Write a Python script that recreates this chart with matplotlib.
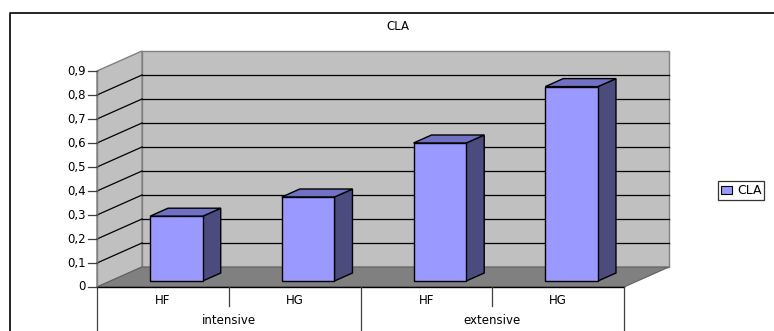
import matplotlib
matplotlib.use('Agg')
import matplotlib.pyplot as plt
from matplotlib.patches import Polygon, Patch
from matplotlib.lines import Line2D

plt.rcParams['font.family'] = ['DejaVu Sans']

# Data
categories = ['HF', 'HG', 'HF', 'HG']
groups = ['intensive', 'extensive']
values = [0.27, 0.35, 0.575, 0.81]
series_name = 'CLA'
ytick_labels = ['0', '0,1', '0,2', '0,3', '0,4', '0,5', '0,6', '0,7', '0,8', '0,9']

# Colours
front_col = '#9999ff'
top_col = '#7070c4'
side_col = '#4b4b7e'
wall_col = '#c0c0c0'
floor_col = '#808080'

W, H = 774, 331
fig = plt.figure(figsize=(W / 100, H / 100), dpi=100)
ax = fig.add_axes([0, 0, 1, 1])

# pixel geometry of the front plane: x 97..624, value 0 at y=287, 0.1 per 24 px
cat_w = (624 - 97) / 4
ax.set_xlim(-97 / cat_w, (W - 97) / cat_w)
ax.set_ylim((287 - H) / 240, 287 / 240)
ax.axis('off')

DX = 45 / cat_w   # depth offset
DY = 20 / 240
ymax = 0.9
n = len(categories)
fs = 8.5

# walls and floor
ax.add_patch(Polygon([(DX, DY), (n + DX, DY), (n + DX, ymax + DY), (DX, ymax + DY)],
                     facecolor=wall_col, edgecolor='#808080', lw=1, zorder=1))
ax.add_patch(Polygon([(0, 0), (DX, DY), (DX, ymax + DY), (0, ymax)],
                     facecolor=wall_col, edgecolor='#808080', lw=1, zorder=1))
ax.add_patch(Polygon([(0, 0), (n, 0), (n + DX, DY), (DX, DY)],
                     facecolor=floor_col, edgecolor='#606060', lw=0.8, zorder=2))

# gridlines
for k in range(1, 9):
    v = k / 10
    ax.plot([DX, n + DX], [v + DY, v + DY], color='black', lw=0.9, zorder=2)
    ax.plot([0, DX], [v, v + DY], color='black', lw=0.9, zorder=2)

# value axis
ax.plot([0, 0], [0, ymax], color='#808080', lw=1, zorder=3)
for k, lab in enumerate(ytick_labels):
    v = k / 10
    ax.plot([-9 / cat_w, 0], [v, v], color='#404040', lw=0.9, zorder=3)
    ax.text(-11 / cat_w, v, lab, ha='right', va='center', fontsize=fs)

# category axis
ax.plot([0, n], [0, 0], color='black', lw=1, zorder=3)
bottom = (287 - H) / 240
for i in range(n + 1):
    low = bottom if i % 2 == 0 else -19 / 240
    ax.plot([i, i], [0, low], color='#404040', lw=0.9, zorder=3)
for i, lab in enumerate(categories):
    ax.text(i + 0.5, -13 / 240, lab, ha='center', va='center', fontsize=fs)
for j, lab in enumerate(groups):
    ax.text(2 * j + 1, -34 / 240, lab, ha='center', va='center', fontsize=fs)

# 3d bars
d0, d1 = 0.3, 0.7
for i, v in enumerate(values):
    x0, x1 = i + 0.3, i + 0.7
    fx0, fx1 = x0 + d0 * DX, x1 + d0 * DX
    fy0, fy1 = d0 * DY, v + d0 * DY
    bx1 = x1 + d1 * DX
    by0, by1 = d1 * DY, v + d1 * DY
    bx0 = x0 + d1 * DX
    ax.add_patch(Polygon([(fx1, fy0), (bx1, by0), (bx1, by1), (fx1, fy1)],
                         facecolor=side_col, edgecolor='black', lw=1, zorder=4))
    ax.add_patch(Polygon([(fx0, fy1), (fx1, fy1), (bx1, by1), (bx0, by1)],
                         facecolor=top_col, edgecolor='black', lw=1, zorder=4))
    ax.add_patch(Polygon([(fx0, fy0), (fx1, fy0), (fx1, fy1), (fx0, fy1)],
                         facecolor=front_col, edgecolor='black', lw=1, zorder=5))

# title
fig.text(398 / W, 1 - 27 / H, series_name, ha='center', va='center', fontsize=fs)

# outer frame
fig.add_artist(Line2D([10 / W, 10 / W, 1.01], [0, 1 - 13 / H, 1 - 13 / H],
                      transform=fig.transFigure, color='black', lw=1.2))

# legend
leg = ax.legend(handles=[Patch(facecolor=front_col, edgecolor='black', lw=0.8, label=series_name)],
                loc='center left', bbox_to_anchor=(718 / W, 1 - 190.5 / H),
                bbox_transform=fig.transFigure, fontsize=9, frameon=True,
                fancybox=False, handlelength=0.9, handleheight=0.6,
                handletextpad=0.35, borderpad=0.25, borderaxespad=0)
leg.get_frame().set_edgecolor('black')
leg.get_frame().set_linewidth(0.9)

fig.savefig('out.png', dpi=100)
